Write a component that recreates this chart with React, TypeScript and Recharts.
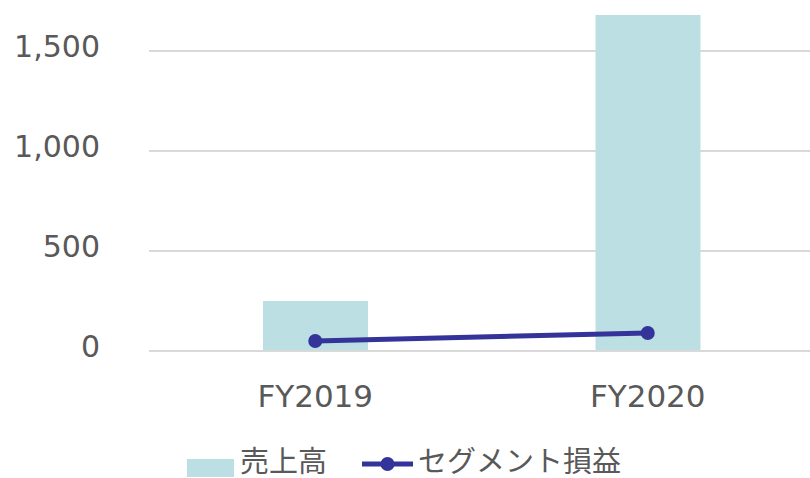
import { ComposedChart, Bar, Line, XAxis, YAxis, CartesianGrid, Legend } from 'recharts'

// 値は画像から読み取り（百万円想定）
const categories = ['FY2019', 'FY2020']
const sales = [250, 1680]
const segmentProfit = [50, 90]
const yTicks = [0, 500, 1000, 1500]

const BAR = '#bbdfe2'
const LINE = '#333399'
const GRID = '#d9d9d9'
const TEXT = '#595959'
const FONT = '"DejaVu Sans", "Noto Sans CJK JP", sans-serif'

const data = categories.map((c, i) => ({ name: c, sales: sales[i], profit: segmentProfit[i] }))

function LegendContent() {
  return (
    <div
      style={{
        display: 'flex',
        justifyContent: 'center',
        alignItems: 'center',
        height: 30,
        paddingTop: 26,
        paddingRight: 6,
        fontFamily: FONT,
        fontSize: 29,
        color: TEXT,
        lineHeight: '30px',
      }}
    >
      <span style={{ display: 'inline-block', width: 47, height: 18, background: BAR, marginRight: 6, marginTop: 12 }} />
      <span style={{ marginRight: 35 }}>売上高</span>
      <svg width={51} height={20} style={{ marginRight: 5, marginTop: 4 }}>
        <line x1={0} y1={10} x2={51} y2={10} stroke={LINE} strokeWidth={5} />
        <circle cx={25.5} cy={10} r={7} fill={LINE} />
      </svg>
      <span>セグメント損益</span>
    </div>
  )
}

export default function App() {
  return (
    <div style={{ position: 'absolute', left: 0, top: 0, width: 810, height: 478, overflow: 'hidden', background: '#fff' }}>
      <ComposedChart
        width={814}
        height={478}
        data={data}
        margin={{ top: 11, right: 0, bottom: 0, left: 0 }}
        style={{ fontFamily: FONT }}
      >
        <CartesianGrid vertical={false} horizontalValues={[500, 1000, 1500]} stroke={GRID} strokeWidth={2} />
        <XAxis
          dataKey="name"
          axisLine={{ stroke: GRID, strokeWidth: 2 }}
          tickLine={false}
          height={70}
          tickMargin={28}
          tick={{ fontSize: 31, fill: TEXT }}
        />
        <YAxis
          domain={[0, 1700]}
          ticks={yTicks}
          width={149}
          axisLine={false}
          tickLine={false}
          tickMargin={43}
          tickFormatter={(v) => Number(v).toLocaleString('en-US')}
          tick={{ fontSize: 30, fill: TEXT, dy: -5 }}
        />
        <Legend verticalAlign="bottom" height={57} content={<LegendContent />} />
        <Bar dataKey="sales" name="売上高" fill={BAR} barSize={105} isAnimationActive={false} />
        <Line
          dataKey="profit"
          name="セグメント損益"
          stroke={LINE}
          strokeWidth={5}
          dot={{ r: 7, fill: LINE, stroke: LINE, strokeWidth: 0 }}
          isAnimationActive={false}
        />
      </ComposedChart>
    </div>
  )
}
